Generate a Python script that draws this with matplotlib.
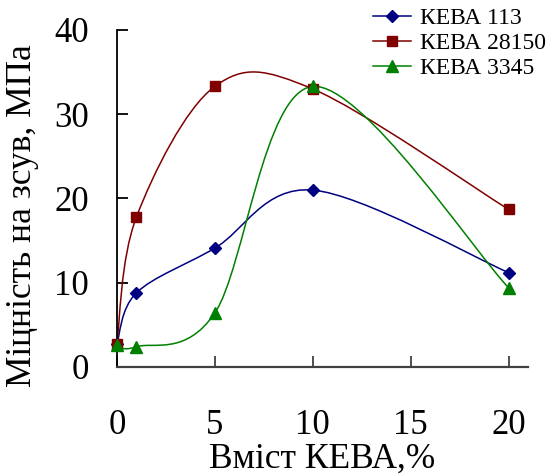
#!/usr/bin/env python3
"""Shear strength vs KEVA content, smoothed lines like the original spreadsheet chart."""

import matplotlib
matplotlib.use('Agg')
import matplotlib.pyplot as plt
from matplotlib.path import Path
from matplotlib.patches import PathPatch
from matplotlib.lines import Line2D

plt.rcParams['font.family'] = ['Liberation Serif', 'DejaVu Serif']

content = [0, 1, 5, 10, 20]
keva_113 = [2.7, 8.8, 14.1, 21.0, 11.2]
keva_28150 = [2.7, 17.8, 33.3, 33.0, 18.7]
keva_3345 = [2.6, 2.4, 6.4, 33.3, 9.4]

series_names = ['КЕВА 113', 'КЕВА 28150', 'КЕВА 3345']
series_values = [keva_113, keva_28150, keva_3345]
colors = ['#000080', '#800000', '#008000']
markers = ['D', 's', '^']
marker_sizes = [6.5, 7, 8]

x_ticks = [0, 5, 10, 15, 20]
y_ticks = [0, 10, 20, 30, 40]


def smooth_path(xs, ys):
    # cubic bezier segments with catmull-rom style control points
    pts = list(zip(xs, ys))
    verts = [pts[0]]
    codes = [Path.MOVETO]
    n = len(pts)
    for i in range(n - 1):
        p0 = pts[max(i - 1, 0)]
        p1 = pts[i]
        p2 = pts[i + 1]
        p3 = pts[min(i + 2, n - 1)]
        c1 = (p1[0] + (p2[0] - p0[0]) / 6.0, p1[1] + (p2[1] - p0[1]) / 6.0)
        c2 = (p2[0] - (p3[0] - p1[0]) / 6.0, p2[1] - (p3[1] - p1[1]) / 6.0)
        verts += [c1, c2, p2]
        codes += [Path.CURVE4] * 3
    return Path(verts, codes)


fig = plt.figure(figsize=(5.59, 4.76), dpi=100)
ax = fig.add_axes([0.209, 0.229, 0.736, 0.708])

handles = []
for name, values, color, marker, ms in zip(
        series_names, series_values, colors, markers, marker_sizes):
    patch = PathPatch(smooth_path(content, values), facecolor='none',
                      edgecolor=color, linewidth=1.1, zorder=2)
    ax.add_patch(patch)
    ax.plot(content, values, linestyle='none', marker=marker, markersize=ms,
            color=color, zorder=3, clip_on=False)
    handles.append(Line2D([], [], color=color, linewidth=1.1, marker=marker,
                          markersize=ms, label=name))

ax.set_xlim(0, 21)
ax.set_ylim(0, 40)
ax.set_xticks(x_ticks)
ax.set_yticks(y_ticks)
ax.spines['top'].set_visible(False)
ax.spines['right'].set_visible(False)
ax.spines['left'].set_color('black')
ax.spines['bottom'].set_color('#404040')
ax.spines['left'].set_linewidth(1.3)
ax.spines['bottom'].set_linewidth(1.6)
ax.tick_params(axis='both', direction='in', length=8, width=1.3,
               labelsize=25)
ax.tick_params(axis='x', pad=30, color='#404040')
ax.tick_params(axis='y', pad=20)

ax.set_xlabel('Вміст КЕВА,%', fontsize=25.5, labelpad=1)
ax.set_ylabel('Міцність на зсув, МПа', fontsize=25.5)
ax.yaxis.set_label_coords(-0.19, 0.45)

ax.legend(handles=handles, loc='upper left', bbox_to_anchor=(0.6, 1.095),
          frameon=False, fontsize=17, handlelength=1.6, handletextpad=0.4,
          labelspacing=0.15, borderaxespad=0)

fig.savefig('out.png', dpi=100)
